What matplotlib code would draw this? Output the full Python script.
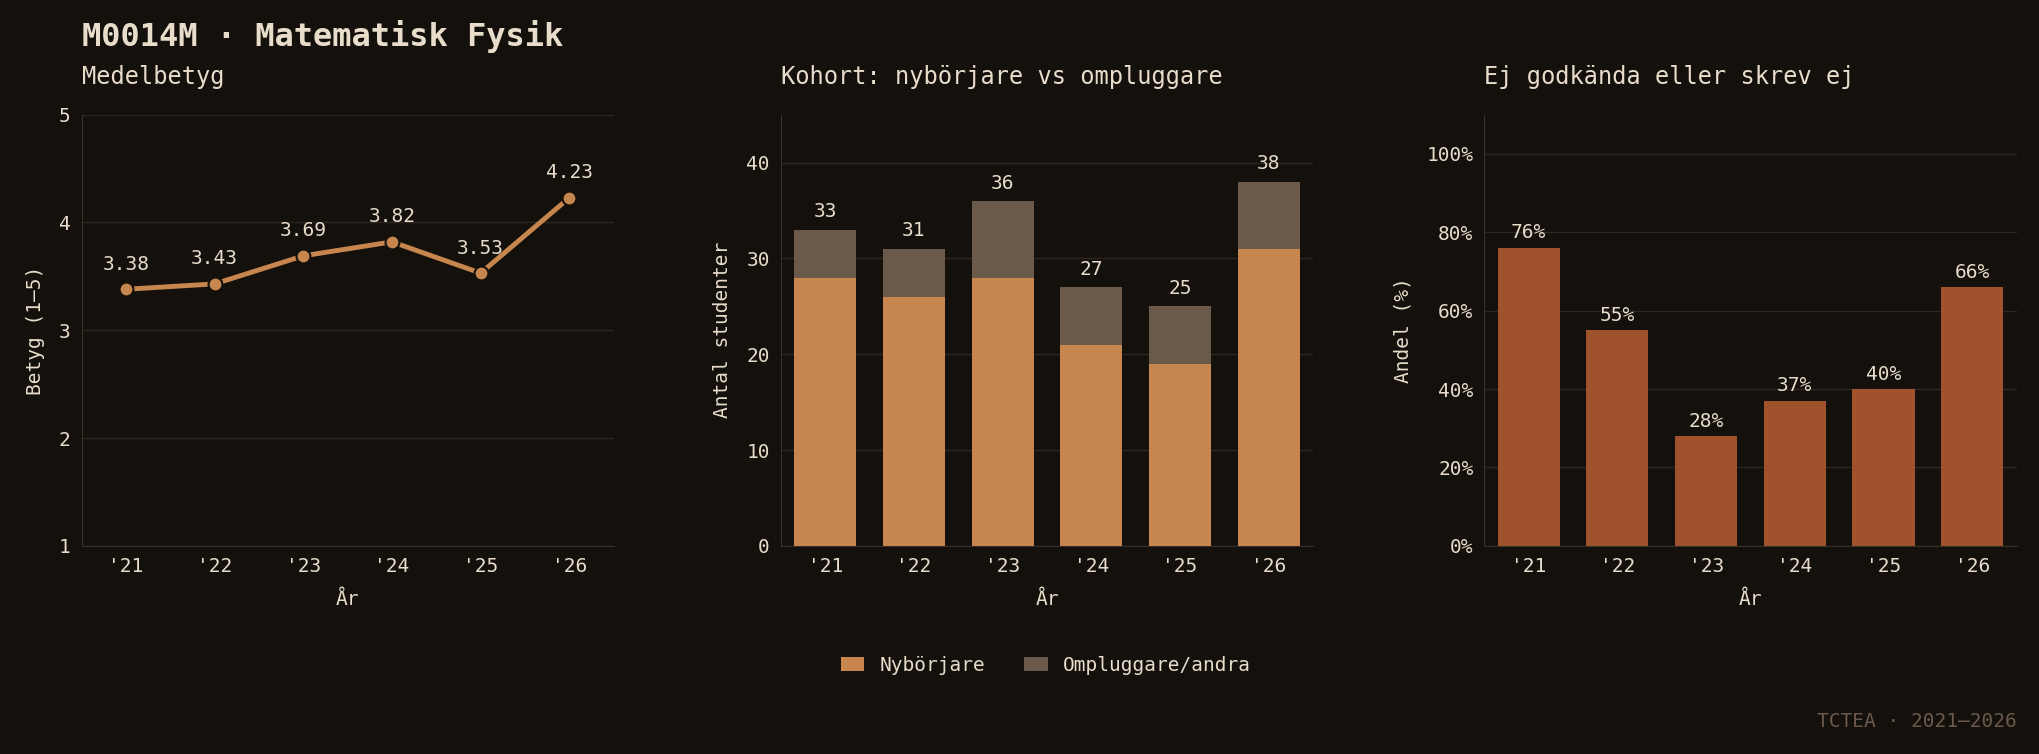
import matplotlib
matplotlib.use("Agg")
import matplotlib.pyplot as plt
import numpy as np

years = ["'21", "'22", "'23", "'24", "'25", "'26"]
grade = [3.38, 3.43, 3.69, 3.82, 3.53, 4.23]
new_students = [28, 26, 28, 21, 19, 31]
retakers = [5, 5, 8, 6, 6, 7]
fail_pct = [76, 55, 28, 37, 40, 66]

BG = '#14100c'
TXT = '#e8dccb'
GRID = '#2e2720'
ORANGE = '#c8864f'
GRAY = '#6b5a4a'
RED = '#a0522d'

plt.rcParams['font.family'] = ['DejaVu Sans Mono']
plt.rcParams['text.color'] = TXT
plt.rcParams['axes.labelcolor'] = TXT
plt.rcParams['xtick.color'] = TXT
plt.rcParams['ytick.color'] = TXT
plt.rcParams['font.size'] = 13

fig = plt.figure(figsize=(20.39, 7.54), dpi=100, facecolor=BG)
lefts = [0.040, 0.383, 0.728]
axes = [fig.add_axes([l, 0.276, 0.261, 0.572]) for l in lefts]
x = np.arange(len(years))

def style(ax, title):
    ax.set_facecolor(BG)
    for s in ['top', 'right']:
        ax.spines[s].set_visible(False)
    for s in ['left', 'bottom']:
        ax.spines[s].set_color('#3a322a')
    ax.grid(axis='y', color=GRID, lw=1)
    ax.set_axisbelow(True)
    ax.tick_params(length=0, labelsize=14, pad=8)
    ax.set_title(title, loc='left', fontsize=17, pad=22)
    ax.set_xticks(x)
    ax.set_xticklabels(years)
    ax.set_xlabel('År', fontsize=14, labelpad=10)

# ---- medelbetyg
ax = axes[0]
style(ax, 'Medelbetyg')
ax.plot(x, grade, color=ORANGE, lw=3.5, marker='o', ms=10,
        markeredgecolor=BG, markeredgewidth=1.5)
for xi, g in zip(x, grade):
    ax.annotate('%.2f' % g, (xi, g), xytext=(0, 14), textcoords='offset points',
                ha='center', fontsize=14)
ax.set_ylim(1, 5)
ax.set_yticks([1, 2, 3, 4, 5])
ax.set_xlim(-0.5, 5.5)
ax.set_ylabel('Betyg (1–5)', fontsize=14, labelpad=10)

# ---- kohort
ax = axes[1]
style(ax, 'Kohort: nybörjare vs ompluggare')
ax.bar(x, new_students, 0.7, color=ORANGE, label='Nybörjare')
ax.bar(x, retakers, 0.7, bottom=new_students, color=GRAY, label='Ompluggare/andra')
for xi, a, b in zip(x, new_students, retakers):
    ax.annotate(str(a + b), (xi, a + b), xytext=(0, 6), textcoords='offset points',
                ha='center', va='bottom', fontsize=14)
ax.set_ylim(0, 45)
ax.set_yticks([0, 10, 20, 30, 40])
ax.set_xlim(-0.5, 5.5)
ax.set_ylabel('Antal studenter', fontsize=14, labelpad=10)
fig.legend(*ax.get_legend_handles_labels(), loc='center', bbox_to_anchor=(0.513, 0.118),
           ncol=2, frameon=False, fontsize=14, handlelength=1.2, columnspacing=2)

# ---- ej godkända
ax = axes[2]
style(ax, 'Ej godkända eller skrev ej')
ax.bar(x, fail_pct, 0.7, color=RED)
for xi, p in zip(x, fail_pct):
    ax.annotate('%d%%' % p, (xi, p), xytext=(0, 4), textcoords='offset points',
                ha='center', va='bottom', fontsize=14)
ax.set_ylim(0, 110)
ax.set_yticks(range(0, 101, 20))
ax.set_yticklabels(['%d%%' % v for v in range(0, 101, 20)])
ax.set_xlim(-0.5, 5.5)
ax.set_ylabel('Andel (%)', fontsize=14, labelpad=10)

fig.text(0.040, 0.952, 'M0014M · Matematisk Fysik', fontsize=23, fontweight='bold',
         va='center', ha='left')
fig.text(0.989, 0.043, 'TCTEA · 2021–2026', fontsize=14, color='#6b5a4a',
         ha='right', va='center')

fig.savefig('out.png', dpi=100, facecolor=BG)
